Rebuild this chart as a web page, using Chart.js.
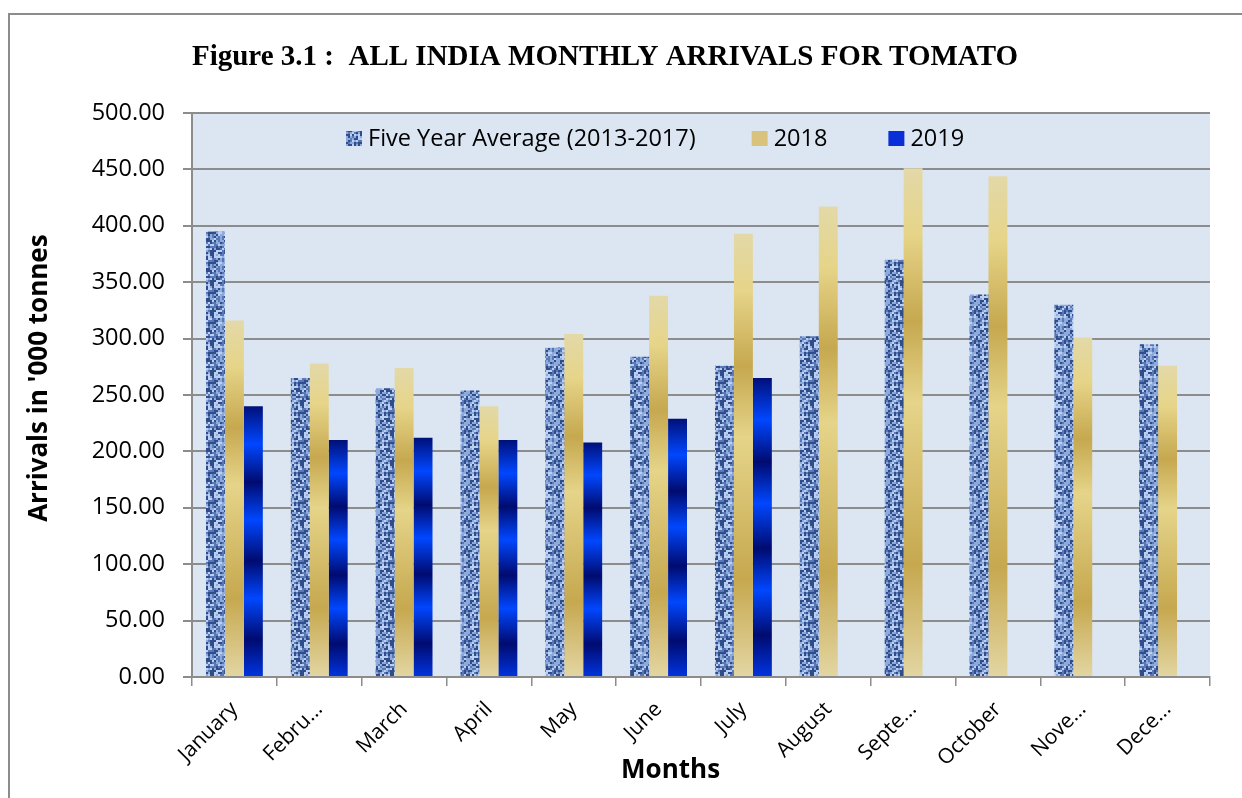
<!DOCTYPE html>
<html>
<head>
<meta charset="utf-8">
<script src="https://cdn.jsdelivr.net/npm/chart.js@4.4.1/dist/chart.umd.min.js"></script>
<style>
  html, body { margin: 0; padding: 0; background: #fff; }
  #frame { position: absolute; left: 8px; top: 13px; width: 1236px; height: 800px;
           border: 2px solid #8c8c8c; border-bottom: none; box-sizing: border-box; }
  #wrap { position: absolute; left: 0; top: 0; width: 1242px; height: 798px; }
</style>
</head>
<body>
<div id="frame"></div>
<div id="wrap"><canvas id="chart" width="1242" height="798"></canvas></div>
<script>
const months = ["January", "Febru...", "March", "April", "May", "June", "July", "August", "Septe...", "October", "Nove...", "Dece..."];
const fiveYearAvg = [395, 265, 256, 254, 292, 284, 276, 302, 370, 339, 330, 295];
const arrivals2018 = [316, 278, 274, 240, 304, 338, 393, 417, 451, 444, 301, 276];
const arrivals2019 = [240, 210, 212, 210, 208, 229, 265, null, null, null, null, null];
const yTicks = [0, 50, 100, 150, 200, 250, 300, 350, 400, 450, 500];

// mottled blue texture for the five year average bars
const makeTexture = () => {
    const c = document.createElement("canvas");
    c.width = 30; c.height = 30;
    const g = c.getContext("2d");
    g.fillStyle = "#8eaadb";
    g.fillRect(0, 0, 30, 30);
    for (let i = 0; i < 15; i++) {
        for (let j = 0; j < 15; j++) {
            const h = Math.abs(Math.sin(i * 12.9898 + j * 78.233) * 43758.5453) % 1;
            if (h < 0.22) g.fillStyle = "#2f4d8a";
            else if (h < 0.45) g.fillStyle = "#5878b8";
            else if (h < 0.75) g.fillStyle = "#8eaadb";
            else g.fillStyle = "#bccff0";
            g.fillRect(i * 2, j * 2, 2, 2);
        }
    }
    return g.createPattern(c, "repeat");
};
const avgTexture = makeTexture();

const goldStops = [[0, "#e3d9a8"], [0.13, "#e6d488"], [0.3, "#c6a84f"], [0.46, "#e5d489"], [0.78, "#c6a84f"], [1, "#e3d6a3"]];
const blueStops = [[0, "#00107a"], [0.14, "#0047ff"], [0.28, "#000b70"], [0.42, "#0047ff"], [0.57, "#000b70"], [0.71, "#0047ff"], [0.86, "#000b70"], [1, "#0035e0"]];

const barGradient = (stops, fallback) => (context) => {
    const chart = context.chart;
    if (context.type !== "data" || !chart.chartArea || context.raw == null) return fallback;
    const y = chart.scales.y;
    const top = y.getPixelForValue(context.raw);
    const bottom = y.getPixelForValue(0);
    if (!isFinite(top) || bottom - top < 1) return fallback;
    const grad = chart.ctx.createLinearGradient(0, top, 0, bottom);
    stops.forEach(([p, c]) => grad.addColorStop(p, c));
    return grad;
};

const plotBackground = {
    id: "plotBackground",
    beforeDraw: (chart) => {
        const { ctx, chartArea: a } = chart;
        ctx.save();
        ctx.fillStyle = "#dce6f2";
        ctx.fillRect(a.left, a.top, a.right - a.left, a.bottom - a.top);
        ctx.restore();
    }
};

// legend sits inside the plot area, just under the top gridline
const innerLegend = {
    id: "innerLegend",
    afterDatasetsDraw: (chart) => {
        const { ctx, chartArea: a } = chart;
        const swatches = [avgTexture, "#d9c37c", "#0a2fd8"];
        const gaps = [56, 61];
        const box = 16, textGap = 6;
        ctx.save();
        ctx.font = "23.5px 'Open Sans'";
        let x = a.left + 154;
        const yMid = a.top + 25;
        chart.data.datasets.forEach((d, i) => {
            ctx.fillStyle = swatches[i];
            ctx.fillRect(x, yMid - 7, box, 15);
            ctx.fillStyle = "#000";
            ctx.textBaseline = "middle";
            ctx.fillText(d.label, x + box + textGap, yMid + 1);
            x += box + textGap + ctx.measureText(d.label).width + (gaps[i] || 0);
        });
        ctx.restore();
    }
};

new Chart(document.getElementById("chart").getContext("2d"), {
    type: "bar",
    data: {
        labels: months,
        datasets: [
            { label: "Five Year Average (2013-2017)", data: fiveYearAvg, backgroundColor: avgTexture },
            { label: "2018", data: arrivals2018, backgroundColor: barGradient(goldStops, "#d9c37c") },
            { label: "2019", data: arrivals2019, backgroundColor: barGradient(blueStops, "#0a2fd8") }
        ]
    },
    options: {
        responsive: false,
        animation: false,
        layout: { padding: { left: 0, right: 32, top: 0, bottom: 0 } },
        datasets: { bar: { categoryPercentage: 0.67, barPercentage: 1.0, borderWidth: 0 } },
        plugins: {
            legend: { display: false },
            tooltip: { enabled: false },
            title: {
                display: true,
                text: "Figure 3.1 :  ALL INDIA MONTHLY ARRIVALS FOR TOMATO",
                color: "#000",
                font: { family: "'Liberation Serif'", size: 29, weight: "bold", lineHeight: 1.2 },
                padding: { top: 40, bottom: 38.2 }
            }
        },
        scales: {
            x: {
                grid: { display: true, drawOnChartArea: false, offset: true, color: "#8c8c8c", lineWidth: 1.5, tickLength: 9 },
                border: { color: "#8c8c8c", width: 2 },
                ticks: { color: "#000", font: { family: "'Open Sans'", size: 21 }, maxRotation: 45, minRotation: 45, autoSkip: false, padding: 11 },
                title: { display: true, text: "Months\u00a0\u00a0\u00a0\u00a0\u00a0\u00a0\u00a0\u00a0\u00a0", color: "#000", font: { family: "'Open Sans'", size: 26, weight: "bold" }, padding: { top: 0, bottom: 12 } },
                afterFit: (s) => { s.height = 121; }
            },
            y: {
                min: 0,
                max: 500,
                afterBuildTicks: (s) => { s.ticks = yTicks.map(v => ({ value: v })); },
                grid: { color: "#8c8c8c", lineWidth: 2, tickLength: 9 },
                border: { color: "#8c8c8c", width: 2 },
                ticks: { color: "#000", font: { family: "'Open Sans'", size: 23.5 }, padding: 18, callback: (v) => v.toFixed(2) },
                title: { display: true, text: "\u00a0\u00a0\u00a0\u00a0\u00a0Arrivals in '000 tonnes", color: "#000", font: { family: "'Open Sans'", size: 26, weight: "bold" }, padding: { top: 24, bottom: 0 } },
                afterFit: (s) => { s.width = 192; }
            }
        }
    },
    plugins: [plotBackground, innerLegend]
});
</script>
</body>
</html>
